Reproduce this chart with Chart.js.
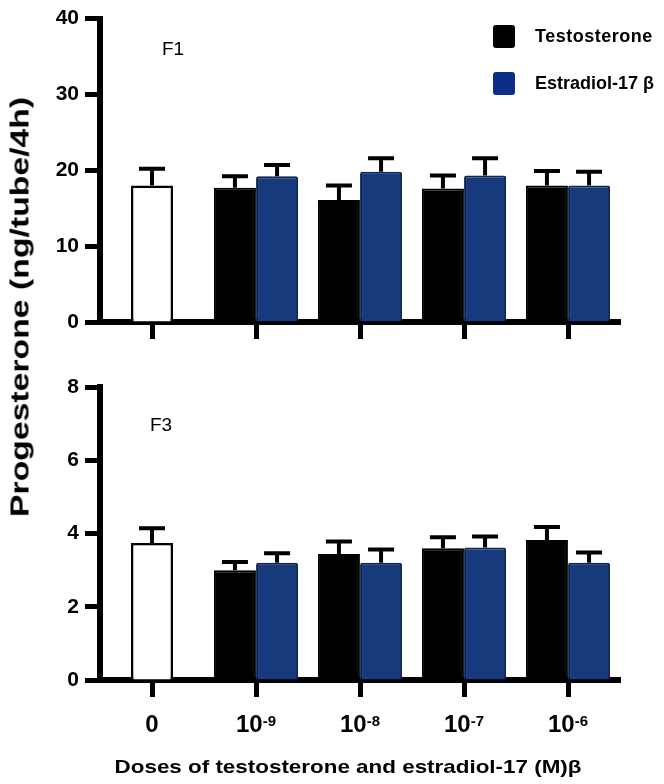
<!DOCTYPE html>
<html>
<head>
<meta charset="utf-8">
<script src="https://cdn.jsdelivr.net/npm/chart.js@4/dist/chart.umd.min.js"></script>
<style>
    body { margin: 0; background: #fff; font-family: 'Liberation Sans', Arial, sans-serif; }
    #wrap { position: relative; width: 664px; height: 784px; overflow: hidden; }
    .cv { position: absolute; left: 0; }
    .txt { position: absolute; white-space: nowrap; color: #000; }
    .bold { font-weight: bold; }
    .swatch { position: absolute; width: 22px; height: 23px; border-radius: 3px; }
</style>
</head>
<body>
<div id="wrap">
    <div class="cv" style="top:0; width:664px; height:360px;"><canvas id="chartF1"></canvas></div>
    <div class="cv" style="top:360px; width:664px; height:424px;"><canvas id="chartF3"></canvas></div>

    <div class="swatch" style="left:493px; top:25px; background:#000;"></div>
    <div class="txt bold" style="left:535px; top:26px; font-size:18px; letter-spacing:0.5px;">Testosterone</div>
    <div class="swatch" style="left:493px; top:72px; background:#0b2f87;"></div>
    <div class="txt bold" style="left:535px; top:73px; font-size:18px;">Estradiol-17 β</div>

    <div class="txt" style="left:162px; top:38px; font-size:19px;">F1</div>
    <div class="txt" style="left:150px; top:414px; font-size:19px;">F3</div>

    <div id="yTitle" class="txt bold" style="left:20px; top:307px; font-size:25px;">Progesterone (ng/tube/4h)</div>
    <div id="xTitle" class="txt bold" style="left:348px; top:767px; font-size:19px;">Doses of testosterone and estradiol-17 (M)β</div>
</div>
<script>
// dose tick labels: base number and its exponent
const doseBase = ['0', '10', '10', '10', '10'];
const doseExp = ['', '-9', '-8', '-7', '-6'];
const doseLabels = doseBase.map((b, i) => doseExp[i] ? b + '^' + doseExp[i] : b);

// F1 panel (ng/tube/4h)
const f1Control = [18.0, null, null, null, null];
const f1ControlErr = [2.2, 0, 0, 0, 0];
const f1Testo = [null, 17.7, 16.1, 17.6, 18.0];
const f1TestoErr = [0, 1.5, 1.9, 1.7, 1.9];
const f1Estra = [null, 19.2, 19.8, 19.3, 18.0];
const f1EstraErr = [0, 1.5, 1.8, 2.3, 1.8];
const f1Ticks = { max: 40, step: 10 };

// F3 panel
const f3Control = [3.74, null, null, null, null];
const f3ControlErr = [0.4, 0, 0, 0, 0];
const f3Testo = [null, 3.0, 3.44, 3.6, 3.82];
const f3TestoErr = [0, 0.22, 0.34, 0.3, 0.36];
const f3Estra = [null, 3.2, 3.2, 3.62, 3.2];
const f3EstraErr = [0, 0.26, 0.36, 0.3, 0.28];
const f3Ticks = { max: 8, step: 2 };

const FONT = "'Liberation Sans', Arial, sans-serif";
const BLUE = '#173a7c';
const BLUE_EDGE = '#0e2452';

const errorBars = {
    id: 'errorBars',
    afterDatasetsDraw(chart) {
        const ctx = chart.ctx;
        const y = chart.scales.y;
        chart.data.datasets.forEach((ds, i) => {
            const meta = chart.getDatasetMeta(i);
            meta.data.forEach((bar, j) => {
                const v = ds.data[j];
                if (v == null) return;
                const top = y.getPixelForValue(v + ds.errors[j]);
                ctx.save();
                ctx.strokeStyle = '#000';
                ctx.lineWidth = 4;
                ctx.beginPath();
                ctx.moveTo(bar.x, bar.y);
                ctx.lineTo(bar.x, top);
                ctx.moveTo(bar.x - 13, top);
                ctx.lineTo(bar.x + 13, top);
                ctx.stroke();
                ctx.restore();
            });
        });
    }
};

// x tick labels with a raised exponent (10^-9 etc.)
const powerLabels = {
    id: 'powerLabels',
    afterDraw(chart, args, opts) {
        if (!opts.show) return;
        const ctx = chart.ctx;
        const x = chart.scales.x;
        const baseY = x.top + 52;
        ctx.save();
        ctx.fillStyle = '#000';
        ctx.textBaseline = 'alphabetic';
        doseBase.forEach((b, i) => {
            const cx = x.getPixelForTick(i);
            ctx.font = 'bold 24px ' + FONT;
            const wb = ctx.measureText(b).width;
            ctx.font = 'bold 15px ' + FONT;
            const we = doseExp[i] ? ctx.measureText(doseExp[i]).width : 0;
            const left = cx - (wb + we) / 2;
            ctx.font = 'bold 24px ' + FONT;
            ctx.textAlign = 'left';
            ctx.fillText(b, left, baseY);
            if (doseExp[i]) {
                ctx.font = 'bold 15px ' + FONT;
                ctx.fillText(doseExp[i], left + wb, baseY - 6);
            }
        });
        ctx.restore();
    }
};

function makeDatasets(ctrl, ctrlErr, testo, testoErr, estra, estraErr) {
    const common = { skipNull: true, categoryPercentage: 0.81, barPercentage: 1, maxBarThickness: 42 };
    return [
        Object.assign({ label: 'Control', data: ctrl, errors: ctrlErr, backgroundColor: '#fff', borderColor: '#000', borderWidth: 2.5 }, common),
        Object.assign({ label: 'Testosterone', data: testo, errors: testoErr, backgroundColor: '#000', borderColor: '#000', borderWidth: 2 }, common),
        Object.assign({ label: 'Estradiol-17 β', data: estra, errors: estraErr, backgroundColor: BLUE, borderColor: BLUE_EDGE, borderWidth: 2, borderRadius: 2, borderSkipped: 'bottom' }, common)
    ];
}

function makeChart(id, datasets, ticks, showLabels, padding, xHeight) {
    return new Chart(document.getElementById(id), {
        type: 'bar',
        data: { labels: doseLabels, datasets: datasets },
        options: {
            responsive: true,
            maintainAspectRatio: false,
            animation: false,
            layout: { padding: padding },
            plugins: { legend: { display: false }, tooltip: { enabled: false }, powerLabels: { show: showLabels } },
            scales: {
                x: {
                    offset: true,
                    border: { display: true, width: 6, color: '#000' },
                    grid: { offset: false, drawOnChartArea: false, drawTicks: true, tickLength: 17, tickWidth: 5, tickColor: '#000' },
                    ticks: { display: false },
                    afterFit: s => { s.height = xHeight; }
                },
                y: {
                    min: 0,
                    max: ticks.max,
                    border: { display: true, width: 6, color: '#000' },
                    grid: { drawOnChartArea: false, drawTicks: true, tickLength: 15, tickWidth: 5, tickColor: '#000' },
                    ticks: { stepSize: ticks.step, color: '#000', padding: 6, font: { family: FONT, size: 21, weight: 'bold' } },
                    afterFit: s => { s.width = 100; }
                }
            }
        },
        plugins: [errorBars, powerLabels]
    });
}

makeChart('chartF1', makeDatasets(f1Control, f1ControlErr, f1Testo, f1TestoErr, f1Estra, f1EstraErr),
    f1Ticks, false, { top: 13, right: 44, bottom: 0, left: 0 }, 38);
makeChart('chartF3', makeDatasets(f3Control, f3ControlErr, f3Testo, f3TestoErr, f3Estra, f3EstraErr),
    f3Ticks, true, { top: 27, right: 44, bottom: 0, left: 0 }, 104);

// stretch the titles to the lengths seen in the figure
function fitText(id, width, rotate) {
    const el = document.getElementById(id);
    const s = width / el.offsetWidth;
    el.style.transform = 'translate(-50%, -50%)' + (rotate ? ' rotate(-90deg)' : '') + ' scaleX(' + s + ')';
}
fitText('yTitle', 420, true);
fitText('xTitle', 467, false);
</script>
</body>
</html>
